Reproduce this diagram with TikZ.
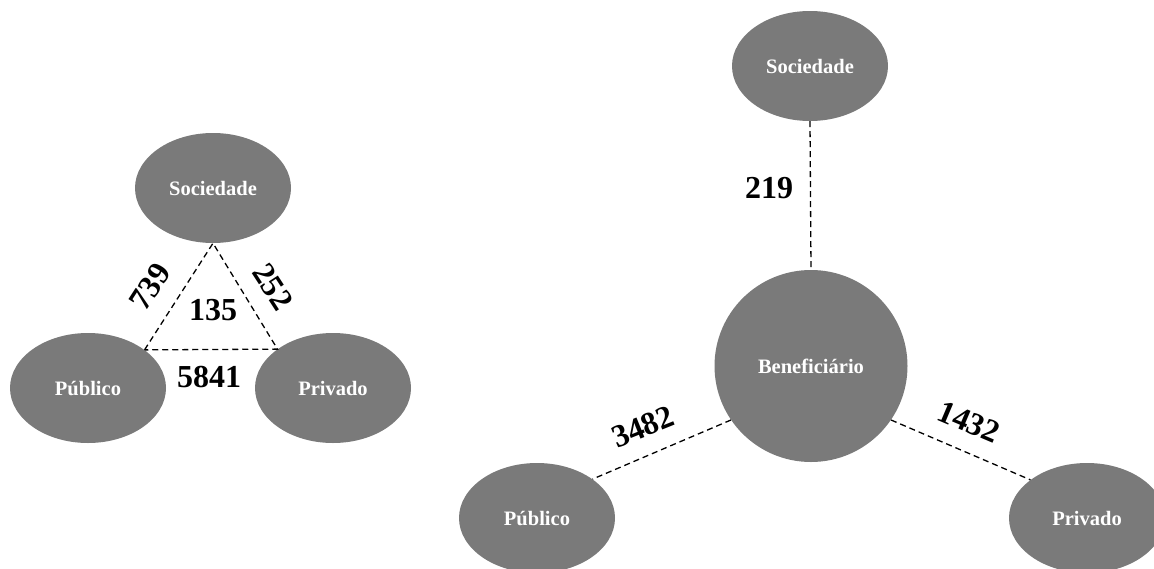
\documentclass[tikz,border=0pt]{standalone}
\usepackage{fontspec}
\setmainfont{Liberation Serif}
\usetikzlibrary{shapes.geometric}
\definecolor{nodegray}{RGB}{122,122,122}
\tikzset{
  ent/.style={ellipse, fill=nodegray, draw=none, minimum width=156pt, minimum height=110pt, inner sep=0pt, text=white, font=\fontsize{20.5}{24}\selectfont\bfseries},
  link/.style={draw=black, line width=1.3pt, dash pattern=on 6pt off 4pt},
  num/.style={font=\fontsize{32}{36}\selectfont\bfseries, inner sep=0pt},
}
\begin{document}
\begin{tikzpicture}[x=1pt,y=-1pt]
\useasboundingbox (0,0) rectangle (1154,568);
% left diagram
\node[ent] (socL) at (213,188) {Sociedade};
\node[ent] (pubL) at (88,388) {Público};
\node[ent] (privL) at (333,388) {Privado};
\draw[link] (pubL.34) -- (socL.south) -- (privL.145) -- cycle;
\node[num, rotate=57] (n739) at (150,287) {739};
\node[num, rotate=-57] (n252) at (273,287) {252};
\node[num] (n135) at (213,310) {135};
\node[num] (n5841) at (209,377) {5841};
% right diagram
\node[ent] (socR) at (810,66) {Sociedade};
\node[ent, minimum width=193pt, minimum height=192pt] (ben) at (811,366) {Beneficiário};
\node[ent] (pubR) at (537,518) {Público};
\node[ent] (privR) at (1087,518) {Privado};
\draw[link] (socR.south) -- (ben.north);
\draw[link] (ben.214) -- (pubR.35);
\draw[link] (ben.326) -- (privR.146);
\node[num] (n219) at (769,188) {219};
\node[num, rotate=22] (n3482) at (643,427) {3482};
\node[num, rotate=-23] (n1432) at (969,422) {1432};
\end{tikzpicture}
\end{document}
